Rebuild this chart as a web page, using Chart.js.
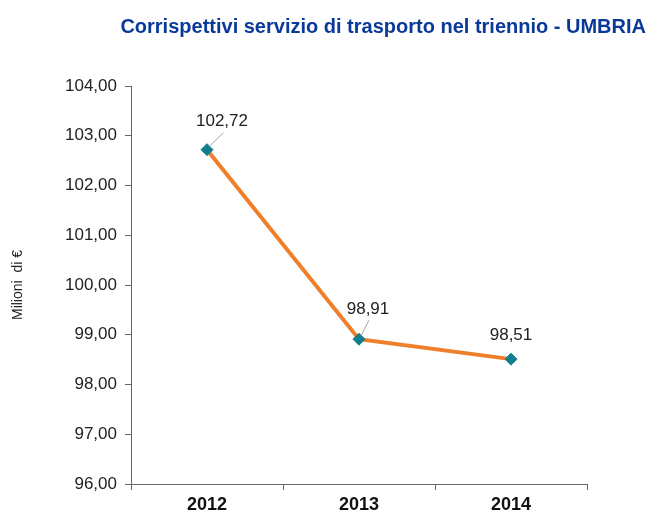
<!DOCTYPE html>
<html>
<head>
<meta charset="utf-8">
<script src="https://cdn.jsdelivr.net/npm/chart.js@4"></script>
<style>
  body { margin: 0; background: #fff; }
  #wrap { width: 651px; height: 513px; }
</style>
</head>
<body>
<div id="wrap"><canvas id="trasporto-chart"></canvas></div>
<script>
const years = ['2012', '2013', '2014'];
const corrispettivi = [102.72, 98.91, 98.51];
const yTicks = [96, 97, 98, 99, 100, 101, 102, 103, 104];

// where each value label sits relative to its point, and whether it gets a leader line
const labelOffsets = [
  { dx: 15, dy: -28, leader: true },
  { dx: 9, dy: -30, leader: true },
  { dx: 0, dy: -24, leader: false }
];

const fmt = v => v.toFixed(2).replace('.', ',');

const ctx = document.querySelector('#trasporto-chart').getContext('2d');

const titlePlugin = {
  id: 'titoloUmbria',
  afterDraw(chart) {
    const c = chart.ctx;
    c.save();
    c.font = 'bold 20px "Liberation Sans", Arial, sans-serif';
    c.fillStyle = '#0a3a99';
    c.textAlign = 'right';
    c.textBaseline = 'middle';
    c.fillText('Corrispettivi servizio di trasporto nel triennio - UMBRIA', 646, 27);
    c.restore();
  }
};

const valueLabels = {
  id: 'valueLabels',
  afterDatasetsDraw(chart) {
    const c = chart.ctx;
    const meta = chart.getDatasetMeta(0);
    c.save();
    c.font = '17px "Liberation Sans", Arial, sans-serif';
    c.fillStyle = '#222';
    c.textAlign = 'center';
    c.textBaseline = 'middle';
    meta.data.forEach((pt, i) => {
      const off = labelOffsets[i];
      const lx = pt.x + off.dx;
      const ly = pt.y + off.dy;
      if (off.leader) {
        c.strokeStyle = '#a6a6a6';
        c.lineWidth = 1;
        c.beginPath();
        c.moveTo(pt.x + 2, pt.y - 3);
        c.lineTo(lx + off.dx * 0.1, ly + 11);
        c.stroke();
      }
      c.fillText(fmt(corrispettivi[i]), lx, ly);
    });
    c.restore();
  }
};

new Chart(ctx, {
  type: 'line',
  data: {
    labels: years,
    datasets: [{
      label: 'Corrispettivi',
      data: corrispettivi,
      borderColor: '#f07f2c',
      borderWidth: 4,
      tension: 0,
      pointStyle: 'rectRot',
      pointRadius: 6,
      pointBackgroundColor: '#147d8c',
      pointBorderColor: '#147d8c',
      pointBorderWidth: 1
    }]
  },
  options: {
    responsive: true,
    maintainAspectRatio: false,
    animation: false,
    layout: { padding: { left: 0, top: 86, right: 64, bottom: 0 } },
    plugins: {
      legend: { display: false },
      tooltip: { enabled: false }
    },
    scales: {
      x: {
        offset: true,
        grid: {
          offset: true,
          drawOnChartArea: false,
          drawTicks: true,
          tickLength: 6,
          color: '#666'
        },
        border: { color: '#666', width: 1 },
        ticks: {
          color: '#111',
          padding: 4,
          font: { family: '"Liberation Sans", Arial, sans-serif', size: 18, weight: 'bold' }
        },
        afterFit: s => { s.height = 29; }
      },
      y: {
        min: 96,
        max: 104,
        afterBuildTicks: s => { s.ticks = yTicks.map(v => ({ value: v })); },
        grid: {
          drawOnChartArea: false,
          drawTicks: true,
          tickLength: 6,
          color: '#666'
        },
        border: { color: '#666', width: 1 },
        ticks: {
          color: '#222',
          padding: 8,
          font: { family: '"Liberation Sans", Arial, sans-serif', size: 17 },
          callback: v => fmt(v)
        },
        title: {
          display: true,
          text: 'Milioni  di €',
          color: '#222',
          padding: { top: 10, bottom: 0 },
          font: { family: '"Liberation Sans", Arial, sans-serif', size: 14 }
        },
        afterFit: s => { s.width = 131; }
      }
    }
  },
  plugins: [titlePlugin, valueLabels]
});
</script>
</body>
</html>
